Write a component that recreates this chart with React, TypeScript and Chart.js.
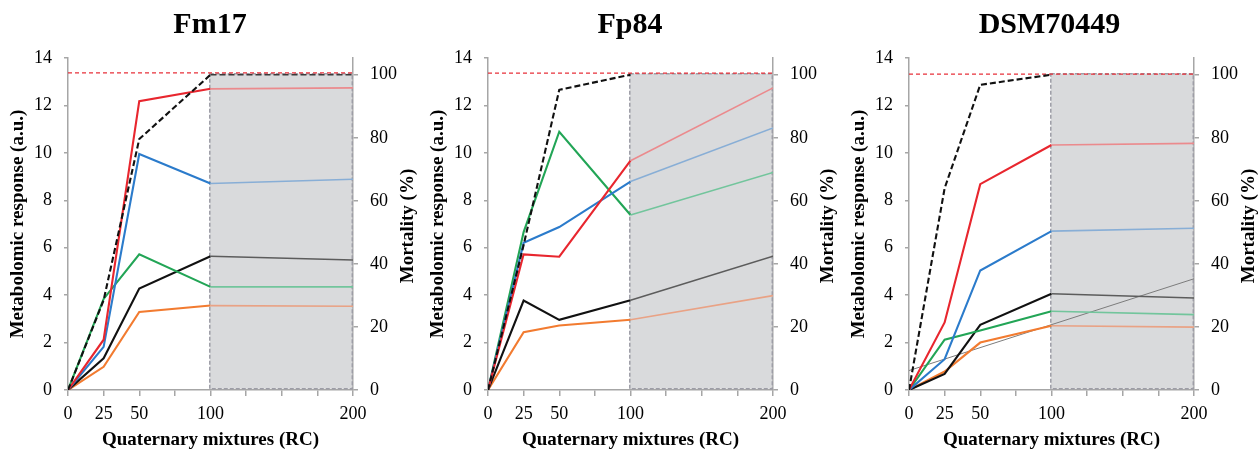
import React, { useEffect, useRef } from 'react';
import { Chart, registerables } from 'chart.js';

Chart.register(...registerables);

const FONT = "'Liberation Serif', 'Times New Roman', Times, serif";

// ---- shared axis data ----
const doses = [0, 25, 50, 100, 200];
const xLabelValues = [0, 25, 50, 100, 200];
const thresholdX = [0, 200];
const shadedFrom = 100;
const shadeX = [99.5, 199.5];
const shadeY = [0.4, 100.3];

const panelTitles = ['Fm17', 'Fp84', 'DSM70449'];
const yLeftTitle = 'Metabolomic response (a.u.)';
const yRightTitle = 'Mortality (%)';
const xTitle = 'Quaternary mixtures (RC)';

// ---- Fm17 ----
const fm17Red = [0, 2.12, 12.18, 12.7, 12.74];
const fm17Blue = [0, 1.82, 9.95, 8.71, 8.89];
const fm17Green = [0, 3.84, 5.72, 4.35, 4.35];
const fm17Black = [0, 1.34, 4.28, 5.64, 5.48];
const fm17Orange = [0, 0.98, 3.29, 3.56, 3.53];
const fm17Mortality = [0, 28.5, 79.6, 100, 100];

// ---- Fp84 ----
const fp84Red = [0, 5.72, 5.62, 9.67, 12.74];
const fp84Blue = [0, 6.21, 6.87, 8.79, 11.05];
const fp84Green = [0, 6.66, 10.89, 7.38, 9.17];
const fp84Black = [0, 3.77, 2.96, 3.78, 5.64];
const fp84Orange = [0, 2.44, 2.72, 2.96, 3.98];
const fp84Mortality = [0, 46, 95.2, 100];

// ---- DSM70449 ----
const dsmRed = [0, 2.85, 8.68, 10.33, 10.4];
const dsmBlue = [0, 1.3, 5.04, 6.7, 6.82];
const dsmGreen = [0, 2.12, 2.51, 3.32, 3.18];
const dsmBlack = [0, 0.68, 2.75, 4.06, 3.88];
const dsmOrange = [0, 0.78, 2.0, 2.71, 2.65];
const dsmMortality = [0, 64, 96.8, 100];
const dsmTrendX = [0, 200];
const dsmTrend = [0.82, 4.69];

const thresholds = [100.6, 100.5, 100.2];

const DARK = { red: '#e8262e', blue: '#2b7bcb', green: '#22a556', black: '#111111', orange: '#f27b30', mort: '#111111' };
const LIGHT = { red: '#eb8a8d', blue: '#88aed6', green: '#72c59c', black: '#5c5c5c', orange: '#e9a285', mort: '#3a3a3a' };

const panels = [
  { red: fm17Red, blue: fm17Blue, green: fm17Green, black: fm17Black, orange: fm17Orange, mort: fm17Mortality, trend: null as number[] | null },
  { red: fp84Red, blue: fp84Blue, green: fp84Green, black: fp84Black, orange: fp84Orange, mort: fp84Mortality, trend: null as number[] | null },
  { red: dsmRed, blue: dsmBlue, green: dsmGreen, black: dsmBlack, orange: dsmOrange, mort: dsmMortality, trend: dsmTrend },
];

const AXIS = '#a6a6a6';

const pts = (xs: number[], ys: number[]) => ys.map((y, k) => ({ x: xs[k], y }));

function buildConfig(i: number, canvasWidth: number): any {
  const p = panels[i];
  const line = (values: number[], key: keyof typeof DARK, extra: any = {}) => ({
    type: 'line',
    data: pts(doses, values),
    yAxisID: 'y',
    borderColor: DARK[key],
    borderWidth: 2.1,
    pointRadius: 0,
    tension: 0,
    segment: {
      borderColor: (c: any) => (c.p0.parsed.x >= shadedFrom ? LIGHT[key] : DARK[key]),
      borderWidth: (c: any) => (c.p0.parsed.x >= shadedFrom ? 1.6 : 2.1),
    },
    ...extra,
  });

  const datasets: any[] = [
    line(p.mort, 'mort', { yAxisID: 'y1', borderDash: [6, 3] }),
    line(p.red, 'red'),
    line(p.blue, 'blue'),
    line(p.green, 'green'),
    line(p.black, 'black'),
    line(p.orange, 'orange'),
    {
      type: 'line',
      data: pts(thresholdX, [thresholds[i], thresholds[i]]),
      yAxisID: 'y1',
      borderColor: '#e8303a',
      borderWidth: 1.3,
      borderDash: [4, 3],
      pointRadius: 0,
    },
  ];
  if (p.trend) {
    datasets.push({
      type: 'line',
      data: pts(dsmTrendX, p.trend),
      yAxisID: 'y',
      borderColor: '#7c7c7c',
      borderWidth: 1,
      pointRadius: 0,
    });
  }

  const tickFont = { family: FONT, size: 18 };
  const titleFont = { family: FONT, size: 19, weight: 'bold' };

  const shadePlugin = {
    id: 'shade' + i,
    beforeDatasetsDraw(chart: any) {
      const { ctx, scales } = chart;
      const x = scales.x, y1 = scales.y1;
      const l = x.getPixelForValue(shadeX[0]);
      const r = x.getPixelForValue(shadeX[1]);
      const t = y1.getPixelForValue(shadeY[1]);
      const b = y1.getPixelForValue(shadeY[0]);
      ctx.save();
      ctx.fillStyle = '#d9dadc';
      ctx.fillRect(l, t, r - l, b - t);
      ctx.strokeStyle = '#9d9da6';
      ctx.lineWidth = 1.5;
      ctx.setLineDash([4, 2]);
      ctx.strokeRect(l, t, r - l, b - t);
      ctx.restore();
    },
    afterDraw(chart: any) {
      const { ctx, chartArea } = chart;
      ctx.save();
      ctx.translate(chartArea.right + 55, (chartArea.top + chartArea.bottom) / 2 + 2);
      ctx.rotate(-Math.PI / 2);
      ctx.font = `bold 19px ${FONT}`;
      ctx.fillStyle = '#000';
      ctx.textAlign = 'center';
      ctx.textBaseline = 'middle';
      ctx.fillText(yRightTitle, 0, 0);
      ctx.restore();
    },
  };

  return {
    type: 'line',
    data: { datasets },
    plugins: [shadePlugin],
    options: {
      animation: false,
      responsive: false,
      devicePixelRatio: 1,
      layout: { padding: 0 },
      plugins: {
        legend: { display: false },
        tooltip: { enabled: false },
        title: {
          display: true,
          text: panelTitles[i],
          color: '#000',
          font: { family: FONT, size: 30, weight: 'bold' },
          padding: { top: 7, bottom: 15 },
        },
      },
      scales: {
        x: {
          type: 'linear',
          position: 'bottom',
          min: 0,
          max: 200,
          border: { display: true, color: AXIS, width: 1.5 },
          grid: { drawOnChartArea: false, drawTicks: true, tickLength: 6, color: AXIS, lineWidth: 1.5 },
          ticks: {
            stepSize: 25,
            autoSkip: false,
            maxRotation: 0,
            includeBounds: false,
            padding: 7,
            color: '#000',
            font: tickFont,
            callback: (v: any) => (xLabelValues.includes(Number(v)) ? String(v) : ''),
          },
          title: { display: true, text: xTitle, color: '#000', font: titleFont, padding: { top: 0, bottom: 0 } },
          afterFit: (s: any) => { s.height = 61; },
        },
        y: {
          type: 'linear',
          position: 'left',
          min: 0,
          max: 14,
          border: { display: true, color: AXIS, width: 1.5 },
          grid: { drawOnChartArea: false, drawTicks: true, tickLength: 4, color: AXIS, lineWidth: 1.5 },
          ticks: { stepSize: 2, includeBounds: false, padding: 12, color: '#000', font: tickFont },
          title: { display: true, text: yLeftTitle, color: '#000', font: titleFont, padding: { top: 7, bottom: 0 } },
          afterFit: (s: any) => { s.width = 68; },
        },
        y1: {
          type: 'linear',
          position: 'right',
          min: 0,
          max: 105.3,
          border: { display: true, color: AXIS, width: 1.5 },
          grid: { drawOnChartArea: false, drawTicks: true, tickLength: 5, color: AXIS, lineWidth: 1.5 },
          ticks: { stepSize: 20, includeBounds: false, padding: 12, color: '#000', font: tickFont },
          afterFit: (s: any) => { s.width = canvasWidth - 353; },
        },
      },
    },
  };
}

function Panel({ index, left, width }: { index: number; left: number; width: number }) {
  const ref = useRef<HTMLCanvasElement>(null);
  useEffect(() => {
    const chart = new Chart(ref.current as HTMLCanvasElement, buildConfig(index, width));
    return () => chart.destroy();
  }, [index, width]);
  return (
    <canvas
      ref={ref}
      width={width}
      height={451}
      style={{ position: 'absolute', left, top: 0, width, height: 451 }}
    />
  );
}

export default function App() {
  return (
    <div style={{ position: 'absolute', left: 0, top: 0, width: 1258, height: 451, background: '#fff', overflow: 'hidden' }}>
      <Panel index={0} left={0} width={420} />
      <Panel index={1} left={420} width={420} />
      <Panel index={2} left={841} width={417} />
    </div>
  );
}
